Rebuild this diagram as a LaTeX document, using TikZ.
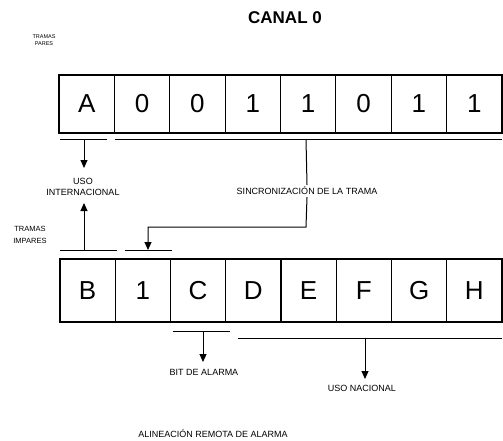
\documentclass[tikz,border=0pt]{standalone}
\usepackage{fontspec}
\setmainfont{Liberation Sans}
\usetikzlibrary{arrows.meta}
\begin{document}
\begin{tikzpicture}[x=1pt,y=-1pt,
 cell/.style={draw,line width=1.1pt,minimum width=55.4pt,minimum height=58pt,inner sep=0pt,font=\fontsize{26}{26}\selectfont},
 cellb/.style={cell,minimum width=55.25pt,minimum height=63pt},
 lbl/.style={font=\fontsize{9}{11}\selectfont,align=center,inner sep=0pt},
 ln/.style={line width=1pt},
 arr/.style={line width=1pt,-{Triangle[width=7pt,length=8pt]}}]
\useasboundingbox (0,0) rectangle (503,440);
% titles
\node[font=\bfseries\fontsize{17}{17}\selectfont] (title) at (285,18) {CANAL 0};
\node[font=\fontsize{5.5}{7}\selectfont,align=center,inner sep=0pt] (pares) at (44,40) {TRAMAS\\PARES};
\node[font=\fontsize{7.5}{12}\selectfont,align=center,inner sep=0pt] (impares) at (30,235) {TRAMAS\\IMPARES};
% top row
\foreach \i/\l in {1/A,2/0,3/0,4/1,5/1,6/0,7/1,8/1}
  \node[cell] (t\i) at ({59+55.375*(\i-0.5)},104) {\l};
% bottom row
\foreach \i/\l in {1/B,2/1,3/C,4/D,5/E,6/F,7/G,8/H}
  \node[cellb] (b\i) at ({60+55.25*(\i-0.5)},290.5) {\l};
% labels
\node[lbl] (uso) at (83,187) {USO\\INTERNACIONAL};
\node[lbl,fill=white,inner sep=2pt] (sync) at (307,191) {SINCRONIZACIÓN DE LA TRAMA};
\node[lbl] (bit) at (204,372) {BIT DE ALARMA};
\node[lbl] (nac) at (362,388) {USO NACIONAL};
\node[lbl] (alin) at (213,434) {ALINEACIÓN REMOTA DE ALARMA};
% coordinates
\coordinate (ua1) at (60,139); \coordinate (ua2) at (107,139);
\coordinate (ub1) at (115,139); \coordinate (ub2) at (502,139);
\coordinate (ia) at (84,139); \coordinate (ib) at (84,168);
\coordinate (sa) at (306,139); \coordinate (sb) at (306,227);
\coordinate (sc) at (148,227); \coordinate (sd) at (148,250);
\coordinate (la1) at (60,250); \coordinate (la2) at (117,250);
\coordinate (lb1) at (125,250); \coordinate (lb2) at (172,250);
\coordinate (iu1) at (84,250); \coordinate (iu2) at (84,203);
\coordinate (ca1) at (173,331); \coordinate (ca2) at (230,331);
\coordinate (na1) at (238,338); \coordinate (na2) at (502,338);
\coordinate (ba) at (203,331); \coordinate (bb) at (203,362);
\coordinate (nb) at (365,338); \coordinate (nc) at (365,379);
% lines
\draw[ln] (ua1) -- (ua2);
\draw[ln] (ub1) -- (ub2);
\draw[arr] (ia) -- (ib);
\draw[ln] (sa) -- (sync.north);
\draw[arr] (sync.south) -- (sb) -- (sc) -- (sd);
\draw[ln] (la1) -- (la2);
\draw[ln] (lb1) -- (lb2);
\draw[arr] (iu1) -- (iu2);
\draw[ln] (ca1) -- (ca2);
\draw[ln] (na1) -- (na2);
\draw[arr] (ba) -- (bb);
\draw[arr] (nb) -- (nc);
\end{tikzpicture}
\end{document}
